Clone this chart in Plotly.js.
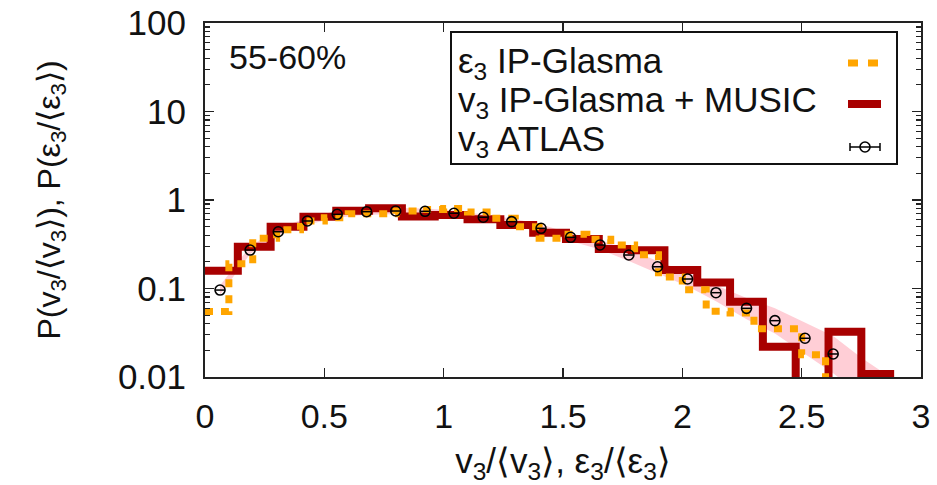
<!DOCTYPE html>
<html>
<head>
<meta charset="utf-8">
<script src="https://cdn.plot.ly/plotly-3.0.1.min.js"></script>
<style>
html,body{margin:0;padding:0;background:#fff;}
#plot{width:937px;height:485px;}
</style>
</head>
<body>
<div id="plot"></div>
<script>
// ---- data ----
// v3 IP-Glasma + MUSIC histogram: bin edges and contents
const musicEdges = [0, 0.1375, 0.275, 0.4125, 0.55, 0.6875, 0.825, 0.9625, 1.1, 1.2375, 1.375,
  1.5125, 1.65, 1.7875, 1.925, 2.0625, 2.2, 2.3375, 2.475, 2.6125, 2.75, 2.8875];
const musicValues = [0.159, 0.297, 0.499, 0.647, 0.757, 0.805, 0.652, 0.678, 0.605, 0.522, 0.427,
  0.362, 0.280, 0.270, 0.162, 0.117, 0.071, 0.022, 0.001, 0.0325, 0.0108];

// eps3 IP-Glasma histogram: bin edges and contents
const glasmaEdges = [0, 0.1, 0.2, 0.3, 0.4, 0.5, 0.6, 0.7, 0.8, 0.9, 1.0, 1.1, 1.2, 1.3, 1.4,
  1.5, 1.6, 1.7, 1.8, 1.9, 2.0, 2.1, 2.2, 2.3, 2.4, 2.5, 2.6, 2.7];
const glasmaValues = [0.055, 0.19, 0.37, 0.46, 0.58, 0.63, 0.70, 0.70, 0.75, 0.78, 0.80, 0.73,
  0.62, 0.50, 0.37, 0.41, 0.36, 0.31, 0.24, 0.135, 0.097, 0.0555, 0.053, 0.035, 0.035, 0.0178, 0.001];

// v3 ATLAS points
const atlasX = [0.063, 0.189, 0.307, 0.429, 0.554, 0.677, 0.799, 0.922, 1.043, 1.166, 1.285,
  1.408, 1.532, 1.655, 1.776, 1.896, 2.022, 2.141, 2.269, 2.388, 2.514, 2.632];
const atlasY = [0.096, 0.272, 0.438, 0.579, 0.689, 0.738, 0.751, 0.745, 0.708, 0.638, 0.569,
  0.479, 0.379, 0.310, 0.239, 0.176, 0.128, 0.0897, 0.0597, 0.0433, 0.0274, 0.0182];
const atlasXErr = [0.02, 0.02, 0.02, 0.02, 0.02, 0.02, 0.02, 0.02, 0.02, 0.02, 0.02,
  0.02, 0.02, 0.02, 0.02, 0.02, 0.02, 0.02, 0.02, 0.02, 0.02, 0.02];

// ATLAS systematic band
const bandX = [0.063, 0.189, 0.307, 0.429, 0.554, 0.677, 0.799, 0.922, 1.043, 1.166, 1.285,
  1.408, 1.532, 1.655, 1.776, 1.896, 2.022, 2.141, 2.269, 2.388, 2.514, 2.632, 2.75, 2.87];
const bandHigh = [0.108, 0.30, 0.48, 0.63, 0.75, 0.80, 0.81, 0.80, 0.76, 0.69, 0.62,
  0.53, 0.42, 0.35, 0.275, 0.205, 0.152, 0.109, 0.078, 0.060, 0.041, 0.029, 0.0165, 0.0100];
const bandLow = [0.085, 0.245, 0.40, 0.53, 0.63, 0.68, 0.69, 0.69, 0.66, 0.59, 0.52,
  0.43, 0.34, 0.275, 0.205, 0.150, 0.106, 0.072, 0.045, 0.031, 0.018, 0.011, 0.0062, 0.004];

// axis ticks
const xTickVals = [0, 0.5, 1, 1.5, 2, 2.5, 3];
const xTickText = ['0', '0.5', '1', '1.5', '2', '2.5', '3'];
const yTickVals = [0.01, 0.1, 1, 10, 100];
const yTickText = ['0.01', '0.1', '1', '10', '100'];

// legend labels
const legendLabels = ['ε<sub>3</sub> IP-Glasma', 'v<sub>3</sub> IP-Glasma + MUSIC', 'v<sub>3</sub> ATLAS'];
const panelLabel = '55-60%';

// ---- styling ----
const FONT = 'Liberation Sans, Arial, sans-serif';
const TXT = '#111';
const RED = '#a80000';
const ORANGE = '#ffa500';

const minorVals = [];
[0.01, 0.1, 1, 10].forEach(d => { for (let k = 2; k <= 9; k++) minorVals.push(d * k); });

const traces = [
  { x: bandX, y: bandLow, mode: 'lines', line: {width: 0, color: 'rgba(0,0,0,0)'},
    hoverinfo: 'skip', showlegend: false },
  { x: bandX, y: bandHigh, mode: 'lines', line: {width: 0, color: 'rgba(0,0,0,0)'},
    fill: 'tonexty', fillcolor: 'rgba(255,185,196,0.7)', hoverinfo: 'skip', showlegend: false },
  { x: musicEdges, y: musicValues.concat([musicValues[musicValues.length - 1]]),
    mode: 'lines', line: {shape: 'hv', width: 8, color: RED}, showlegend: false },
  { x: glasmaEdges, y: glasmaValues.concat([glasmaValues[glasmaValues.length - 1]]),
    mode: 'lines', line: {shape: 'hv', width: 7, color: ORANGE, dash: '8px,8px'}, showlegend: false },
  { x: atlasX, y: atlasY, mode: 'markers',
    marker: {symbol: 'circle-open', size: 10, color: '#000', line: {width: 1.6, color: '#000'}},
    error_x: {type: 'data', array: atlasXErr, thickness: 1.5, width: 0, color: '#000'},
    showlegend: false }
];

// pixel helpers for layout placement (plot area: x 205..921, y 23..377)
const L = 205, R = 921, T = 23, B = 377;
const px = v => (v - L) / (R - L);
const py = v => (B - v) / (B - T);

const shapes = [
  // legend box
  {type: 'rect', xref: 'paper', yref: 'paper', x0: px(451), x1: px(897), y0: py(164), y1: py(32),
   line: {color: '#111', width: 2}, fillcolor: 'rgba(255,255,255,0)'},
  // legend samples
  {type: 'line', xref: 'paper', yref: 'paper', x0: px(848), x1: px(880), y0: py(63), y1: py(63),
   line: {color: ORANGE, width: 7, dash: '10px,10px'}},
  {type: 'line', xref: 'paper', yref: 'paper', x0: px(848), x1: px(881), y0: py(104), y1: py(104),
   line: {color: RED, width: 8}},
  {type: 'line', xref: 'paper', yref: 'paper', x0: px(850), x1: px(880), y0: py(147), y1: py(147),
   line: {color: '#000', width: 1.5}},
  {type: 'line', xref: 'paper', yref: 'paper', x0: px(850), x1: px(850), y0: py(143), y1: py(151),
   line: {color: '#000', width: 1.5}},
  {type: 'line', xref: 'paper', yref: 'paper', x0: px(880), x1: px(880), y0: py(143), y1: py(151),
   line: {color: '#000', width: 1.5}},
  {type: 'circle', xref: 'paper', yref: 'paper', x0: px(860), x1: px(870), y0: py(152), y1: py(142),
   line: {color: '#000', width: 1.6}, fillcolor: 'rgba(255,255,255,0)'}
];

const annotations = [
  {xref: 'paper', yref: 'paper', x: px(227), y: py(57), xanchor: 'left', yanchor: 'middle',
   text: panelLabel, showarrow: false, font: {family: FONT, size: 34, color: TXT}},
  {xref: 'paper', yref: 'paper', x: px(456), y: py(63), xanchor: 'left', yanchor: 'middle',
   text: legendLabels[0], showarrow: false, font: {family: FONT, size: 35, color: TXT}},
  {xref: 'paper', yref: 'paper', x: px(456), y: py(102), xanchor: 'left', yanchor: 'middle',
   text: legendLabels[1], showarrow: false, font: {family: FONT, size: 35, color: TXT}},
  {xref: 'paper', yref: 'paper', x: px(456), y: py(141), xanchor: 'left', yanchor: 'middle',
   text: legendLabels[2], showarrow: false, font: {family: FONT, size: 35, color: TXT}}
];

const layout = {
  width: 937, height: 485,
  margin: {l: L, r: 937 - R, t: T, b: 485 - B, pad: 0},
  paper_bgcolor: '#fff', plot_bgcolor: '#fff',
  showlegend: false,
  font: {family: FONT, size: 33, color: TXT},
  xaxis: {
    range: [0, 3], tickmode: 'array', tickvals: xTickVals, ticktext: xTickText,
    ticks: 'inside', ticklen: 9, tickwidth: 1.5, tickcolor: '#222',
    showline: true, linecolor: '#222', linewidth: 2, mirror: 'ticks',
    showgrid: false, zeroline: false, ticklabelstandoff: 8,
    tickfont: {family: FONT, size: 34, color: TXT},
    title: {text: 'v<sub>3</sub>/⟨v<sub>3</sub>⟩, ε<sub>3</sub>/⟨ε<sub>3</sub>⟩', standoff: 16,
            font: {family: FONT, size: 35, color: TXT}}
  },
  yaxis: {
    type: 'log', range: [-2, 2], tickmode: 'array', tickvals: yTickVals, ticktext: yTickText,
    ticks: 'inside', ticklen: 9, tickwidth: 1.5, tickcolor: '#222',
    minor: {tickmode: 'array', tickvals: minorVals, ticks: 'inside', ticklen: 5, tickwidth: 1.2, tickcolor: '#222', showgrid: false},
    showline: true, linecolor: '#222', linewidth: 2, mirror: 'ticks',
    showgrid: false, zeroline: false, ticklabelstandoff: 10,
    tickfont: {family: FONT, size: 35, color: TXT},
    title: {text: 'P(v<sub>3</sub>/⟨v<sub>3</sub>⟩), P(ε<sub>3</sub>/⟨ε<sub>3</sub>⟩)', standoff: 48,
            font: {family: FONT, size: 32, color: TXT}}
  },
  shapes: shapes,
  annotations: annotations
};

Plotly.newPlot('plot', traces, layout, {staticPlot: true, displayModeBar: false});
</script>
</body>
</html>
